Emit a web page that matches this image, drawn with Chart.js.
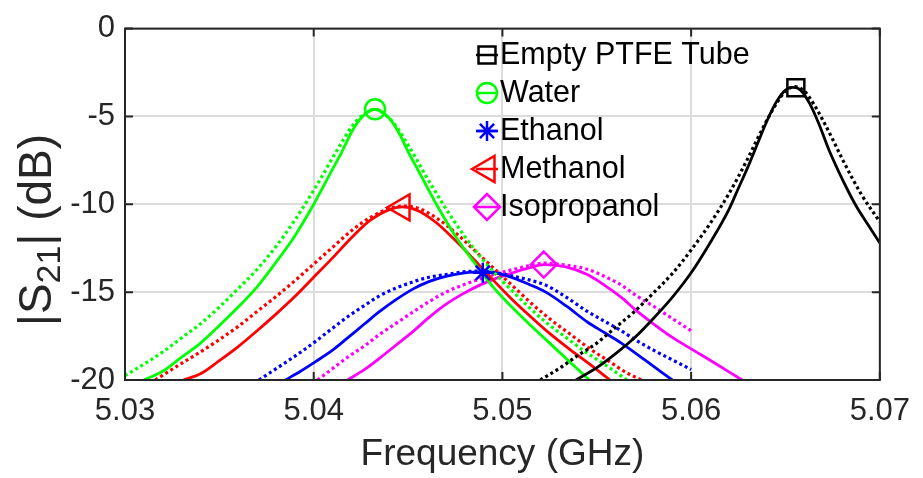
<!DOCTYPE html>
<html>
<head>
<meta charset="utf-8">
<script src="https://cdn.jsdelivr.net/npm/chart.js@4.4.1/dist/chart.umd.min.js"></script>
<style>
  html, body { margin: 0; padding: 0; background: #fff; }
  #wrap { width: 923px; height: 478px; }
</style>
</head>
<body>
<div id="wrap"><canvas id="s21Chart" width="923" height="478"></canvas></div>
<script>
/* ---------- data ---------- */
const seriesNames = ["Empty PTFE Tube", "Water", "Ethanol", "Methanol", "Isopropanol"];
const seriesColors = ["#000000", "#00ff00", "#0000ff", "#ff0000", "#ff00ff"];

const xTicks = [5.03, 5.04, 5.05, 5.06, 5.07];
const yTicks = [0, -5, -10, -15, -20];

// [GHz, dB] pairs, solid curves
const emptySolid = [[5.0539,-20],[5.0550,-19.3],[5.0560,-18.5],[5.0570,-17.6],[5.0580,-16.5],[5.0590,-15.3],
  [5.0600,-13.9],[5.0610,-12.2],[5.0620,-10.3],[5.0625,-9.1],[5.0630,-7.9],[5.0635,-6.6],[5.0640,-5.3],
  [5.0645,-4.2],[5.0650,-3.5],[5.0654,-3.35],[5.0658,-3.5],[5.0663,-4.3],[5.0668,-5.5],[5.0673,-6.9],
  [5.0678,-8.1],[5.0683,-9.2],[5.0688,-10.2],[5.0694,-11.2],[5.0700,-12.2]];
const waterSolid = [[5.0310,-20],[5.0320,-19.5],[5.0330,-18.7],[5.0340,-17.9],[5.0350,-16.9],[5.0360,-15.85],
  [5.0370,-14.7],[5.0380,-13.3],[5.0390,-11.8],[5.0400,-10.0],[5.0405,-9.0],[5.0410,-8.0],[5.0415,-7.0],
  [5.0420,-5.9],[5.0425,-5.1],[5.04325,-4.59],[5.0440,-5.1],[5.0445,-5.9],[5.0450,-7.0],[5.0455,-8.0],
  [5.0460,-9.0],[5.0465,-10.0],[5.0475,-11.8],[5.0485,-13.3],[5.0495,-14.7],[5.0505,-15.85],[5.0515,-16.9],
  [5.0525,-17.9],[5.0535,-18.9],[5.0546,-20]];
const ethanolSolid = [[5.0385,-20],[5.0393,-19.5],[5.0401,-18.95],[5.0410,-18.3],[5.0418,-17.6],[5.0427,-16.8],
  [5.0435,-16.1],[5.0444,-15.4],[5.0453,-14.8],[5.0461,-14.4],[5.0470,-14.1],[5.0480,-13.9],[5.0490,-13.85],
  [5.0498,-13.95],[5.0506,-14.2],[5.0514,-14.55],[5.0523,-15.0],[5.0534,-15.8],[5.0545,-16.7],[5.0554,-17.3],
  [5.0563,-17.9],[5.0576,-18.9],[5.0590,-20]];
const methanolSolid = [[5.0331,-20],[5.0340,-19.65],[5.0350,-18.9],[5.0360,-18.1],[5.0370,-17.2],[5.0380,-16.25],
  [5.0390,-15.25],[5.0400,-14.15],[5.0410,-13.05],[5.0420,-11.9],[5.0430,-10.9],[5.0440,-10.3],[5.04468,-10.15],
  [5.0455,-10.35],[5.0465,-11.05],[5.0475,-12.05],[5.0485,-13.15],[5.0495,-14.3],[5.0505,-15.4],[5.0515,-16.4],
  [5.0525,-17.35],[5.0535,-18.2],[5.0545,-19.0],[5.0557,-20]];
const isoSolid = [[5.0418,-20],[5.0427,-19.4],[5.0435,-18.75],[5.0444,-17.98],[5.0453,-17.2],[5.0461,-16.45],
  [5.0470,-15.7],[5.0479,-15.1],[5.0488,-14.6],[5.0497,-14.2],[5.0506,-13.88],[5.0514,-13.62],[5.0522,-13.43],
  [5.0533,-13.55],[5.0545,-14.0],[5.0554,-14.6],[5.0563,-15.3],[5.0571,-16.05],[5.0580,-16.8],[5.0589,-17.5],
  [5.0598,-18.1],[5.0612,-19.0],[5.0627,-20]];

// dotted curves
const emptyDotted = [[5.0520,-20],[5.0530,-19.35],[5.0540,-18.6],[5.0550,-17.9],[5.0560,-17.0],[5.0570,-16.1],
  [5.0580,-15.05],[5.0590,-13.95],[5.0600,-12.6],[5.0610,-11.1],[5.0620,-9.4],[5.0630,-7.4],[5.0635,-6.3],
  [5.0640,-5.25],[5.0645,-4.3],[5.0650,-3.56],[5.0655,-3.3],[5.0660,-3.56],[5.0665,-4.3],[5.0670,-5.25],
  [5.0675,-6.3],[5.0680,-7.4],[5.0690,-9.4],[5.0700,-11.0]];
const waterDotted = [[5.0300,-19.75],[5.0310,-19.1],[5.0320,-18.4],[5.0330,-17.6],[5.0340,-16.8],[5.0350,-15.85],
  [5.0360,-14.8],[5.0370,-13.7],[5.0380,-12.4],[5.0390,-10.9],[5.0400,-9.2],[5.0405,-8.3],[5.0410,-7.35],
  [5.0415,-6.45],[5.0420,-5.6],[5.0425,-5.0],[5.0432,-4.6],[5.0439,-5.0],[5.0444,-5.6],[5.0449,-6.45],
  [5.0454,-7.35],[5.0459,-8.3],[5.0464,-9.2],[5.0474,-10.9],[5.0484,-12.4],[5.0494,-13.7],[5.0504,-14.8],
  [5.0514,-15.85],[5.0524,-16.8],[5.0534,-17.6],[5.0544,-18.4],[5.0554,-19.1],[5.0566,-20]];
const ethanolDotted = [[5.0371,-20],[5.0383,-19.15],[5.0392,-18.5],[5.0401,-17.8],[5.0410,-17.05],[5.0418,-16.4],
  [5.0427,-15.75],[5.0435,-15.2],[5.0444,-14.75],[5.0453,-14.4],[5.0461,-14.15],[5.0470,-14.0],[5.0479,-13.85],
  [5.0488,-13.8],[5.0497,-13.9],[5.0506,-14.1],[5.0514,-14.3],[5.0523,-14.6],[5.0534,-15.3],[5.0545,-16.1],
  [5.0554,-16.65],[5.0563,-17.2],[5.0571,-17.75],[5.0580,-18.3],[5.0590,-18.85],[5.0600,-19.4]];
const methanolDotted = [[5.0316,-20],[5.0330,-19.05],[5.0340,-18.4],[5.0350,-17.7],[5.0360,-16.95],[5.0370,-16.1],
  [5.0380,-15.25],[5.0390,-14.35],[5.0400,-13.4],[5.0410,-12.45],[5.0420,-11.5],[5.0430,-10.75],[5.0440,-10.25],
  [5.0448,-10.1],[5.0456,-10.25],[5.0466,-10.85],[5.0476,-11.7],[5.0486,-12.7],[5.0496,-13.7],[5.0506,-14.7],
  [5.0516,-15.7],[5.0526,-16.6],[5.0536,-17.4],[5.0546,-18.2],[5.0556,-18.9],[5.0566,-19.6],[5.0574,-20]];
const isoDotted = [[5.0402,-20],[5.0410,-19.35],[5.0418,-18.7],[5.0427,-18.05],[5.0435,-17.4],[5.0444,-16.75],
  [5.0453,-16.1],[5.0461,-15.55],[5.0470,-15.0],[5.0479,-14.6],[5.0488,-14.25],[5.0497,-13.95],[5.0506,-13.7],
  [5.0514,-13.5],[5.0522,-13.35],[5.0533,-13.45],[5.0545,-13.7],[5.0554,-14.1],[5.0563,-14.6],[5.0571,-15.2],
  [5.0580,-15.8],[5.0590,-16.5],[5.0600,-17.2]];

// resonance markers
const peakFreq = [5.06555, 5.04325, 5.04896, 5.04468, 5.05219];
const peakDb = [-3.37, -4.59, -13.9, -10.18, -13.43];

const markerStyles = ["rect", "circle", "star", "triangle", "rectRot"];
const markerRot = [0, 0, 0, -90, 0];
const markerSize = [12, 10, 10, 15, 13];

/* ---------- build datasets ---------- */
const solidCurves = [emptySolid, waterSolid, ethanolSolid, methanolSolid, isoSolid];
const dottedCurves = [emptyDotted, waterDotted, ethanolDotted, methanolDotted, isoDotted];
const toXY = arr => arr.map(p => ({ x: p[0], y: p[1] }));

const datasets = [];
seriesNames.forEach((name, i) => {
  datasets.push({
    label: name + " marker",
    data: [{ x: peakFreq[i], y: peakDb[i] }],
    showLine: false,
    pointStyle: markerStyles[i],
    rotation: markerRot[i],
    pointRadius: markerSize[i],
    pointBorderColor: seriesColors[i],
    pointBackgroundColor: "rgba(0,0,0,0)",
    pointBorderWidth: 2.5,
    order: 0
  });
});
seriesNames.forEach((name, i) => {
  datasets.push({
    label: name,
    data: toXY(solidCurves[i]),
    borderColor: seriesColors[i],
    borderWidth: 2.8,
    pointRadius: 0,
    cubicInterpolationMode: "monotone",
    order: 1
  });
  datasets.push({
    label: name + " (dotted)",
    data: toXY(dottedCurves[i]),
    borderColor: seriesColors[i],
    borderWidth: 3.2,
    borderDash: [3, 3],
    pointRadius: 0,
    cubicInterpolationMode: "monotone",
    order: 1
  });
});

/* ---------- frame, inner ticks, titles, legend ---------- */
const FONT = "'Liberation Sans', Arial, Helvetica, sans-serif";
const AXIS_COLOR = "#262626";

const framePlugin = {
  id: "frame",
  afterDraw(chart) {
    const { ctx, chartArea: a, scales } = chart;
    ctx.save();
    ctx.strokeStyle = AXIS_COLOR;
    ctx.lineWidth = 2;
    ctx.strokeRect(a.left, a.top, a.right - a.left, a.bottom - a.top);

    // inward tick marks
    const tl = 8;
    ctx.beginPath();
    xTicks.forEach(v => {
      const x = scales.x.getPixelForValue(v);
      ctx.moveTo(x, a.bottom); ctx.lineTo(x, a.bottom - tl);
      ctx.moveTo(x, a.top); ctx.lineTo(x, a.top + tl);
    });
    yTicks.forEach(v => {
      const y = scales.y.getPixelForValue(v);
      ctx.moveTo(a.left, y); ctx.lineTo(a.left + tl, y);
      ctx.moveTo(a.right, y); ctx.lineTo(a.right - tl, y);
    });
    ctx.stroke();

    // x title
    ctx.fillStyle = AXIS_COLOR;
    ctx.font = "37px " + FONT;
    ctx.textAlign = "center";
    ctx.textBaseline = "middle";
    ctx.fillText("Frequency (GHz)", (a.left + a.right) / 2, 455);

    // y title |S21| (dB) with subscript
    const mainF = "46px " + FONT, subF = "34px " + FONT;
    const parts = [["|S", mainF, 0], ["21", subF, 9], ["| (dB)", mainF, 0]];
    let total = 0;
    parts.forEach(p => { ctx.font = p[1]; total += ctx.measureText(p[0]).width; });
    ctx.translate(51, 230);
    ctx.rotate(-Math.PI / 2);
    ctx.textAlign = "left";
    ctx.textBaseline = "alphabetic";
    let px = -total / 2;
    parts.forEach(p => {
      ctx.font = p[1];
      ctx.fillText(p[0], px, p[2]);
      px += ctx.measureText(p[0]).width;
    });
    ctx.restore();

    // legend
    ctx.save();
    seriesNames.forEach((name, i) => {
      const y = 55 + i * 38;
      ctx.strokeStyle = seriesColors[i];
      ctx.lineWidth = 2.5;
      ctx.beginPath();
      ctx.moveTo(476, y); ctx.lineTo(498, y);
      ctx.stroke();
      ctx.fillStyle = "rgba(0,0,0,0)";
      Chart.helpers.drawPoint(ctx, {
        pointStyle: markerStyles[i], rotation: markerRot[i],
        radius: markerSize[i], borderWidth: 2.5
      }, 487, y);
      ctx.fillStyle = "#000";
      ctx.font = "30.5px " + FONT;
      ctx.textAlign = "left";
      ctx.textBaseline = "middle";
      ctx.fillText(name, 500, y + 1);
    });
    ctx.restore();
  }
};

new Chart(document.getElementById("s21Chart"), {
  type: "line",
  data: { datasets },
  options: {
    responsive: false,
    animation: false,
    devicePixelRatio: 1,
    layout: { padding: { top: 20, right: 35, left: 0, bottom: 0 } },
    plugins: { legend: { display: false }, tooltip: { enabled: false } },
    scales: {
      x: {
        type: "linear",
        min: 5.03, max: 5.07,
        afterBuildTicks: s => { s.ticks = xTicks.map(v => ({ value: v })); },
        afterFit: s => { s.height = 98; },
        border: { display: false },
        grid: { color: "#dcdcdc", lineWidth: 2, drawTicks: false },
        ticks: {
          color: AXIS_COLOR, padding: 13,
          font: { family: FONT, size: 31 },
          callback: v => v.toFixed(2),
          maxRotation: 0
        }
      },
      y: {
        type: "linear",
        min: -20, max: 0,
        afterBuildTicks: s => { s.ticks = yTicks.map(v => ({ value: v })); },
        afterFit: s => { s.width = 125; },
        border: { display: false },
        grid: { color: "#dcdcdc", lineWidth: 2, drawTicks: false },
        ticks: {
          color: AXIS_COLOR, padding: 10,
          font: { family: FONT, size: 31 },
          callback: v => String(v)
        }
      }
    }
  },
  plugins: [framePlugin]
});
</script>
</body>
</html>
